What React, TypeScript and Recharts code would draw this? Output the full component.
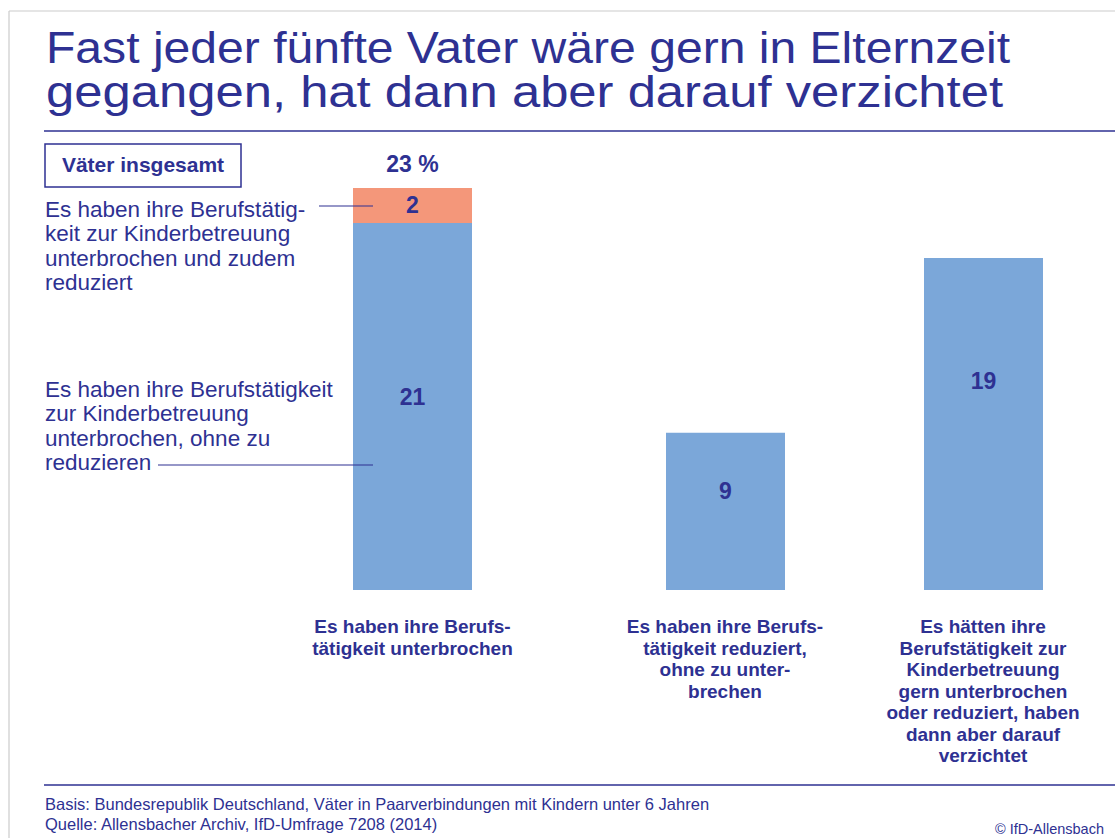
import React from 'react';
import { BarChart, Bar, XAxis, YAxis, LabelList } from 'recharts';

const NAVY = '#2e3192';
const BLUE = '#7ba7d9';
const ORANGE = '#f4977a';
const FONT = "'Liberation Sans', Arial, sans-serif";

// categories (x axis labels, line breaks as in the original)
const categories = [
  'Es haben ihre Berufs-\ntätigkeit unterbrochen',
  'Es haben ihre Berufs-\ntätigkeit reduziert,\nohne zu unter-\nbrechen',
  'Es hätten ihre\nBerufstätigkeit zur\nKinderbetreuung\ngern unterbrochen\noder reduziert, haben\ndann aber darauf\nverzichtet',
];
// percent values
const mainValues = [21, 9, 19];
const reducedToo = [2, 0, 0];

const titleLines = [
  'Fast jeder fünfte Vater wäre gern in Elternzeit',
  'gegangen, hat dann aber darauf verzichtet',
];
const titleWidths = [964, 957];
const noteTop = ['Es haben ihre Berufstätig-', 'keit zur Kinderbetreuung', 'unterbrochen und zudem', 'reduziert'];
const noteBottom = ['Es haben ihre Berufstätigkeit', 'zur Kinderbetreuung', 'unterbrochen, ohne zu', 'reduzieren'];
const footer = [
  'Basis: Bundesrepublik Deutschland, Väter in Paarverbindungen mit Kindern unter 6 Jahren',
  'Quelle: Allensbacher Archiv, IfD-Umfrage 7208 (2014)',
];

const rows = categories.map((name, i) => ({
  name,
  main: mainValues[i],
  extra: reducedToo[i],
  total: mainValues[i] + reducedToo[i],
}));

const CategoryTick = (props: any) => {
  const { x, y, payload } = props;
  const lines = String(payload.value).split('\n');
  return (
    <text x={x} y={y} textAnchor="middle" fill={NAVY} fontFamily={FONT} fontWeight="bold" fontSize={19}>
      {lines.map((l, i) => (
        <tspan key={i} x={x} dy={i === 0 ? 43 : 21.5}>{l}</tspan>
      ))}
    </text>
  );
};

const mainLabel = (frac: number) => (props: any) => {
  const { x, y, width, height, value } = props;
  if (!value) return null;
  return (
    <text x={x + width / 2} y={y + height * frac} textAnchor="middle" dominantBaseline="central"
      fill={NAVY} fontFamily={FONT} fontWeight="bold" fontSize={23}>
      {value}
    </text>
  );
};

const extraLabel = (data: typeof rows) => (props: any) => {
  const { x, y, width, height, value, index } = props;
  if (!value) return null;
  const cx = x + width / 2;
  return (
    <g>
      <text x={cx} y={y + height / 2} textAnchor="middle" dominantBaseline="central"
        fill={NAVY} fontFamily={FONT} fontWeight="bold" fontSize={23}>
        {value}
      </text>
      <text x={cx} y={y - 24} textAnchor="middle" dominantBaseline="central"
        fill={NAVY} fontFamily={FONT} fontWeight="bold" fontSize={23}>
        {data[index].total} %
      </text>
    </g>
  );
};

const Bars = ({ data, width, left, frac }: { data: typeof rows; width: number; left: number; frac: number }) => (
  <div style={{ position: 'absolute', left, top: 140 }}>
    <BarChart width={width} height={630} data={data} margin={{ top: 48, right: 0, left: 0, bottom: 0 }} style={{ overflow: 'visible' }}>
      <XAxis dataKey="name" interval={0} height={180} axisLine={false} tickLine={false} tickSize={0} tickMargin={0} tick={<CategoryTick />} />
      <YAxis hide domain={[0, 23]} />
      <Bar dataKey="main" stackId="a" fill={BLUE} barSize={119} isAnimationActive={false}>
        <LabelList dataKey="main" content={mainLabel(frac)} />
      </Bar>
      <Bar dataKey="extra" stackId="a" fill={ORANGE} barSize={119} isAnimationActive={false}>
        <LabelList dataKey="extra" content={extraLabel(data)} />
      </Bar>
    </BarChart>
  </div>
);

export default function App() {
  return (
    <div style={{ position: 'absolute', left: 0, top: 0, width: 1115, height: 838, background: '#fff', overflow: 'hidden' }}>
      <Bars data={rows.slice(0, 1)} width={259} left={283} frac={0.475} />
      <Bars data={rows.slice(1)} width={516} left={596} frac={0.37} />
      <svg width={1115} height={838} style={{ position: 'absolute', left: 0, top: 0, pointerEvents: 'none' }}>
        <line x1={9} y1={11} x2={1115} y2={11} stroke="#cccccc" strokeWidth={1.2} />
        <line x1={9} y1={11} x2={9} y2={838} stroke="#cccccc" strokeWidth={1.2} />
        {titleLines.map((t, i) => (
          <text key={i} x={46} y={63 + i * 44} fill={NAVY} fontFamily={FONT} fontSize={45}
            textLength={titleWidths[i]} lengthAdjust="spacingAndGlyphs">{t}</text>
        ))}
        <line x1={44} y1={131} x2={1115} y2={131} stroke={NAVY} strokeWidth={1.5} />
        <rect x={45} y={144} width={196} height={43} fill="none" stroke={NAVY} strokeWidth={1.5} />
        <text x={143} y={172} textAnchor="middle" fill={NAVY} fontFamily={FONT} fontWeight="bold" fontSize={21}>Väter insgesamt</text>
        {noteTop.map((t, i) => (
          <text key={i} x={45} y={217 + i * 24.3} fill={NAVY} fontFamily={FONT} fontSize={22.5}>{t}</text>
        ))}
        <line x1={319} y1={206} x2={373} y2={206} stroke={NAVY} strokeWidth={1.2} />
        {noteBottom.map((t, i) => (
          <text key={i} x={45} y={397 + i * 24.3} fill={NAVY} fontFamily={FONT} fontSize={22.5}>{t}</text>
        ))}
        <line x1={158} y1={465} x2={373} y2={465} stroke={NAVY} strokeWidth={1.2} />
        <line x1={44} y1={785} x2={1115} y2={785} stroke={NAVY} strokeWidth={1.5} />
        {footer.map((t, i) => (
          <text key={i} x={45} y={810 + i * 20} fill={NAVY} fontFamily={FONT} fontSize={16.5}>{t}</text>
        ))}
        <text x={1104} y={834} textAnchor="end" fill={NAVY} fontFamily={FONT} fontSize={14.5}>© IfD-Allensbach</text>
      </svg>
    </div>
  );
}
